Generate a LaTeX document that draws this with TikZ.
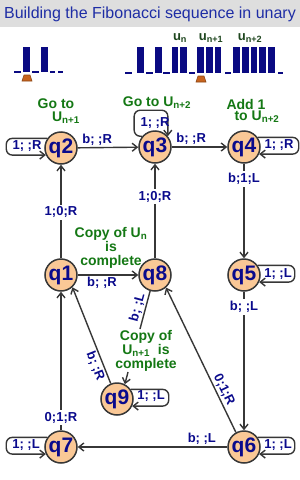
\documentclass[tikz,border=0pt]{standalone}
\usepackage{fontspec}
\setmainfont{Liberation Sans}
\usetikzlibrary{arrows.meta}
\definecolor{tblue}{RGB}{10,10,140}
\definecolor{tgreen}{RGB}{20,120,20}
\definecolor{qfill}{RGB}{250,200,150}
\definecolor{edgec}{RGB}{55,55,55}
\definecolor{barc}{RGB}{10,10,130}
\definecolor{headc}{RGB}{200,100,30}
\definecolor{headd}{RGB}{140,70,20}
\definecolor{titlebg}{RGB}{222,222,222}
\definecolor{titlec}{RGB}{30,45,165}
\definecolor{ulab}{RGB}{30,70,30}
\begin{document}
\begin{tikzpicture}[x=1pt,y=-1pt,
 state/.style={circle,draw=edgec,line width=1.5pt,fill=qfill,minimum size=32pt,inner sep=0pt,text=tblue,font=\bfseries\fontsize{21}{21}\selectfont},
 lbl/.style={text=tblue,font=\bfseries\fontsize{13}{13}\selectfont,inner sep=1.5pt},
 onl/.style={lbl,fill=white,inner sep=2pt},
 note/.style={text=tgreen,font=\bfseries\fontsize{14}{14}\selectfont,align=center,inner sep=0pt},
 ulbl/.style={text=ulab,font=\bfseries\fontsize{13}{13}\selectfont,inner sep=0pt},
 arr/.style={draw=edgec,line width=1.4pt,-{Straight Barb[length=5pt,width=8pt]}},
 plain/.style={draw=edgec,line width=1.4pt},
 loopl/.style={arr,rounded corners=6pt},
 tapebar/.style={fill=barc},
 tapedash/.style={draw=barc,line width=1.2pt},
 tapehead/.style={fill=headc,draw=headd,line width=0.6pt},
]
\useasboundingbox (0,0) rectangle (300,480);
\fill[white] (0,0) rectangle (300,480);
% title
\fill[titlebg] (0,0) rectangle (300,27);
\node[text=titlec,font=\fontsize{16}{16}\selectfont,inner sep=0pt] (title) at (150,14) {Building the Fibonacci sequence in unary};

% left tape
\foreach \a/\b in {23/30,41/48} \fill[tapebar] (\a,47) rectangle (\b,72);
\foreach \a/\b in {14/21,32/39,50/55,58/63} \draw[tapedash] (\a,72) -- (\b,72);
\draw[tapehead] (22,81) -- (24,75) -- (30,75) -- (32,81) -- cycle;

% right tape
\foreach \a/\b in {137/144,155/162,172/178,180/187,197/204,206/213,215/221,233/240,242/249,251/257,259/266,268/275}
  \fill[tapebar] (\a,47) rectangle (\b,73);
\foreach \a/\b in {125/132,146/153,163/170,189/195,225/231,278/283} \draw[tapedash] (\a,73) -- (\b,73);
\draw[tapehead] (196,82) -- (198,76) -- (204,76) -- (206,82) -- cycle;
\node[ulbl] (un) at (180,38) {u\textsubscript{n}};
\node[ulbl] (un1) at (211,38) {u\textsubscript{n+1}};
\node[ulbl] (un2) at (250,38) {u\textsubscript{n+2}};

% states
\node[state] (q2) at (61,148) {q2};
\node[state] (q3) at (155,147) {q3};
\node[state] (q4) at (244,147) {q4};
\node[state] (q1) at (61,275) {q1};
\node[state] (q8) at (155,275) {q8};
\node[state] (q5) at (244,275) {q5};
\node[state] (q9) at (117,399) {q9};
\node[state] (q7) at (61,447) {q7};
\node[state] (q6) at (244,447) {q6};

% notes
\node[note] (g1) at (56,104) {Go to};
\node[note] (g2) at (66,118) {U\textsubscript{n+1}};
\node[note] (g3) at (157,103) {Go to U\textsubscript{n+2}};
\node[note] (g4) at (246,104) {Add 1};
\node[note] (g5) at (257,117) {to U\textsubscript{n+2}};
\node[note] (c1) at (111,248) {Copy of U\textsubscript{n}\\is\\complete};
\node[note] (c2) at (146,351) {Copy of\\U\textsubscript{n+1}\ \ is\\complete};
\coordinate (c2top) at (140,329);
\coordinate (c2bot) at (128,372);

% self loops
\draw[loopl] (q2.145) -- ++(-41,0) |- (q2.205);
\node[lbl] (l2) at ([xshift=-34pt,yshift=2pt]q2.center) {1; ;R};
\draw[loopl] (q3.140) -| ++(-8,-26) -| (q3.40);
\node[lbl] (l3) at ([yshift=24pt]q3.center) {1; ;R};
\draw[loopl] (q4.35) -- ++(41,0) |- (q4.-25);
\node[lbl] (l4) at ([xshift=35pt,yshift=2pt]q4.center) {1; ;R};
\draw[loopl] (q5.35) -- ++(37,0) |- (q5.-25);
\node[lbl] (l5) at ([xshift=34pt,yshift=1pt]q5.center) {1; ;L};
\draw[loopl] (q9.35) -- ++(38,0) |- (q9.-25);
\node[lbl] (l9) at ([xshift=34pt,yshift=3pt]q9.center) {1; ;L};
\draw[loopl] (q6.35) -- ++(37,0) |- (q6.-25);
\node[lbl] (l6) at ([xshift=34pt,yshift=2pt]q6.center) {1; ;L};
\draw[loopl] (q7.145) -- ++(-41,0) |- (q7.205);
\node[lbl] (l7) at ([xshift=-35pt,yshift=2pt]q7.center) {1; ;L};

% edges
\draw[arr] (q2) -- node[lbl,above,pos=0.32]{b; ;R} (q3);
\draw[arr] (q3) -- node[lbl,above,pos=0.35]{b; ;R} (q4);
\draw[arr] (q1) -- node[lbl,below,pos=0.4]{b; ;R} (q8);
\draw[arr] (q6) -- node[lbl,above,pos=0.17]{b; ;L} (q7);
\draw[arr] (q1) -- node[onl,pos=0.49]{1;0;R} (q2);
\draw[arr] (q8) -- node[onl,pos=0.65]{1;0;R} (q3);
\draw[arr] (q4) -- node[onl,pos=0.16]{b;1;L} (q5);
\draw[arr] (q5) -- node[onl,pos=0.11]{b; ;L} (q6);
\draw[arr] (q7) -- node[onl,pos=0.09]{0;1;R} (q1);
\draw[arr] (q9.112) -- node[lbl,sloped,below,pos=0.21]{b; ;R} (q1.-47);
\draw[arr] (q6.119) -- node[lbl,sloped,above,pos=0.27]{0;1;R} (q8.-49);
\draw[plain] (q8.-107) -- node[lbl,sloped,above,pos=0.49]{b; ;L} (c2top);
\draw[arr] (c2bot) -- (q9.62);
\end{tikzpicture}
\end{document}
